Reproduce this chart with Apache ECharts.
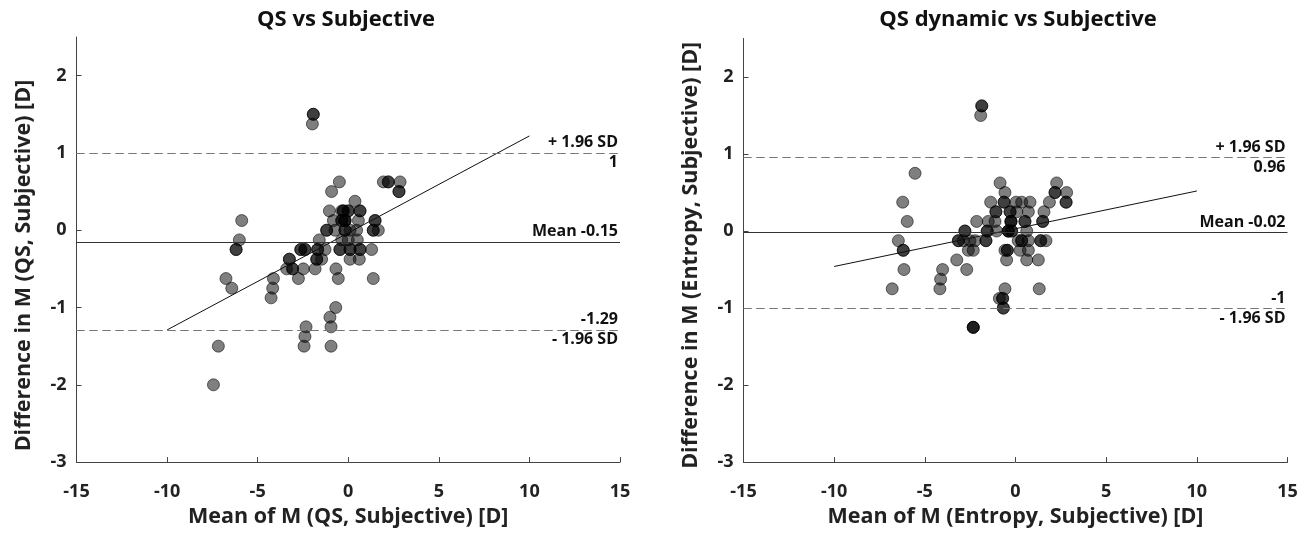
<!DOCTYPE html>
<html>
<head>
<meta charset="utf-8">
<script src="https://cdn.jsdelivr.net/npm/echarts@6/dist/echarts.min.js"></script>
<style>
html,body{margin:0;padding:0;background:#fff;}
#c{width:1311px;height:533px;}
</style>
</head>
<body>
<div id="c"></div>
<script>
// ---- Data ----
const titles = ['QS vs Subjective', 'QS dynamic vs Subjective'];
const xNames = ['Mean of M (QS, Subjective) [D]', 'Mean of M (Entropy, Subjective) [D]'];
const yNames = ['Difference in M (QS, Subjective) [D]', 'Difference in M (Entropy, Subjective) [D]'];
const xTicks = [-15, -10, -5, 0, 5, 10, 15];
const yTicks = [-3, -2, -1, 0, 1, 2];

// Left panel points [mean, difference]
const pointsQS = [
  [-1.93,1.5],[-1.93,1.5],[-1.98,1.375],
  [-0.49,0.625],[1.94,0.625],[2.21,0.625],[2.21,0.625],[2.86,0.625],
  [-0.92,0.5],[2.8,0.5],[2.8,0.5],
  [0.37,0.375],
  [-1.04,0.25],[-0.36,0.25],[-0.27,0.25],[-0.27,0.25],[0,0.25],[0,0.25],[0.65,0.25],[0.65,0.25],
  [-5.88,0.125],[-0.82,0.125],[-0.36,0.125],[-0.36,0.125],[-0.18,0.125],[-0.18,0.125],[-0.18,0.125],[0.56,0.125],[1.48,0.125],[1.48,0.125],
  [-1.19,0],[-1.19,0],[-0.73,0],[-0.18,0],[-0.18,0],[0.1,0],[0.46,0],[1.38,0],[1.38,0],[1.66,0],
  [-6.01,-0.125],[-1.6,-0.125],[-0.36,-0.125],[0,-0.125],[0.5,-0.125],
  [-6.19,-0.25],[-6.19,-0.25],[-2.62,-0.25],[-2.62,-0.25],[-2.39,-0.25],[-2.39,-0.25],[-1.69,-0.25],[-1.69,-0.25],[-1.28,-0.25],[-0.46,-0.25],[-0.46,-0.25],[0.1,-0.25],[0.1,-0.25],[0.65,-0.25],[0.65,-0.25],[1.29,-0.25],
  [-3.25,-0.375],[-3.25,-0.375],[-1.74,-0.375],[-1.74,-0.375],[-1.47,-0.375],[0.1,-0.375],[0.61,-0.375],
  [-3.4,-0.5],[-3.07,-0.5],[-3.07,-0.5],[-2.48,-0.5],[-1.83,-0.5],[-0.68,-0.5],
  [-6.75,-0.625],[-4.13,-0.625],[-2.75,-0.625],[-0.55,-0.625],[1.38,-0.625],
  [-6.43,-0.75],[-4.17,-0.75],
  [-4.26,-0.875],
  [-0.69,-1],
  [-1.01,-1.125],
  [-2.33,-1.25],[-0.95,-1.25],
  [-2.39,-1.375],
  [-7.17,-1.5],[-2.44,-1.5],[-0.95,-1.5],
  [-7.44,-2]
];
// Right panel points [mean, difference]
const pointsEntropy = [
  [-1.86,1.625],[-1.86,1.625],[-1.92,1.5],
  [-5.54,0.75],
  [-0.85,0.625],[2.27,0.625],
  [-0.58,0.5],[2.18,0.5],[2.18,0.5],[2.82,0.5],
  [-6.22,0.375],[-1.37,0.375],[-0.63,0.375],[-0.63,0.375],[0.03,0.375],[0.34,0.375],[0.8,0.375],[1.87,0.375],[2.79,0.375],[2.79,0.375],
  [-1.08,0.25],[-1.08,0.25],[-0.3,0.25],[-0.3,0.25],[0.07,0.25],[0.71,0.25],[1.57,0.25],
  [-5.97,0.125],[-2.14,0.125],[-1.5,0.125],[-1.13,0.125],[-0.25,0.125],[-0.25,0.125],[-0.25,0.125],[0.52,0.125],[0.52,0.125],[1.5,0.125],[1.5,0.125],
  [-2.79,0],[-2.79,0],[-1.56,0],[-1.56,0],[-1.04,0],[-0.4,0],[-0.4,0],[-0.4,0],[-0.21,0],[-0.21,0],[0.62,0],
  [-6.46,-0.125],[-3.15,-0.125],[-3.15,-0.125],[-2.88,-0.125],[-2.51,-0.125],[-2.23,-0.125],[-1.63,-0.125],[-1.63,-0.125],[0.15,-0.125],[0.34,-0.125],[0.34,-0.125],[0.71,-0.125],[1.39,-0.125],[1.39,-0.125],[1.68,-0.125],
  [-6.19,-0.25],[-6.19,-0.25],[-2.6,-0.25],[-2.33,-0.25],[-0.58,-0.25],[-0.45,-0.25],[-0.45,-0.25],[0.25,-0.25],[0.71,-0.25],
  [-3.24,-0.375],[-0.49,-0.375],[0.62,-0.375],[1.26,-0.375],
  [-6.15,-0.5],[-4.02,-0.5],[-2.69,-0.5],
  [-4.13,-0.625],
  [-6.8,-0.75],[-4.17,-0.75],[-0.58,-0.75],[1.31,-0.75],
  [-0.89,-0.875],[-0.71,-0.875],[-0.71,-0.875],
  [-0.67,-1],[-0.67,-1],
  [-2.33,-1.25],[-2.33,-1.25],[-2.33,-1.25]
];
// Regression lines (endpoints)
const regQS = [[-10,-1.29],[10,1.22]];
const regEntropy = [[-10,-0.46],[10,0.52]];
// Limits of agreement: [upper, mean, lower]
const loaQS = [1.0, -0.15, -1.29];
const loaEntropy = [0.96, -0.02, -1.0];
const loaLabelsQS = [['+ 1.96 SD','1'], ['Mean -0.15'], ['-1.29','- 1.96 SD']];
const loaLabelsEntropy = [['+ 1.96 SD','0.96'], ['Mean -0.02'], ['-1','- 1.96 SD']];

// ---- Chart ----
const FONT = '"Open Sans", Lato, sans-serif';
const chart = echarts.init(document.getElementById('c'), null, {renderer:'canvas'});
const yNamePad = [[0,32,0,0],[0,10,0,0]];

function xAxisDef(i){
  return {
    gridIndex:i, type:'value', min:-15, max:15, interval:5,
    name:xNames[i], nameLocation:'middle', nameGap:39,
    nameTextStyle:{fontFamily:FONT, fontWeight:'bold', fontSize:21.5, color:'#222'},
    axisLine:{show:true, onZero:false, lineStyle:{color:'#444', width:1}},
    axisTick:{show:true, inside:true, length:5, lineStyle:{color:'#444'}},
    axisLabel:{fontFamily:FONT, fontWeight:'bold', fontSize:18, color:'#222', margin:21},
    splitLine:{show:false}
  };
}
function yAxisDef(i){
  return {
    gridIndex:i, type:'value', min:-3, max:2.5,
    name:yNames[i], nameLocation:'middle', nameGap:42, nameRotate:90,
    nameTextStyle:{fontFamily:FONT, fontWeight:'bold', fontSize:21.5, color:'#222', padding:yNamePad[i]},
    axisLine:{show:true, onZero:false, lineStyle:{color:'#444', width:1}},
    axisTick:{show:true, inside:true, length:5, lineStyle:{color:'#444'}, customValues:yTicks},
    axisLabel:{fontFamily:FONT, fontWeight:'bold', fontSize:18, color:'#222', margin:10, customValues:yTicks},
    splitLine:{show:false}
  };
}
function loaMarkLine(vals, labels){
  const lab = (text, pos) => ({show:true, formatter:text, position:pos, distance:2,
    fontFamily:FONT, fontWeight:'bold', fontSize:16, color:'#111'});
  const dashed = {color:'#777', type:[8,5], width:1};
  const solid = {color:'#333', type:'solid', width:1};
  return {
    silent:true, symbol:['none','none'], animation:false,
    data:[
      {yAxis:vals[0], lineStyle:dashed, label:lab(labels[0][0],'insideEndTop')},
      {yAxis:vals[0], lineStyle:dashed, label:lab(labels[0][1],'insideEndBottom')},
      {yAxis:vals[1], lineStyle:solid, label:lab(labels[1][0],'insideEndTop')},
      {yAxis:vals[2], lineStyle:dashed, label:lab(labels[2][0],'insideEndTop')},
      {yAxis:vals[2], lineStyle:dashed, label:lab(labels[2][1],'insideEndBottom')}
    ]
  };
}
function scatterDef(i, pts, vals, labels){
  return {
    type:'scatter', xAxisIndex:i, yAxisIndex:i, data:pts, symbolSize:12,
    itemStyle:{color:'rgba(0,0,0,0.5)', borderColor:'rgba(0,0,0,0.55)', borderWidth:1, opacity:1},
    markLine:loaMarkLine(vals, labels), z:3
  };
}
function regDef(i, pts){
  return {type:'line', xAxisIndex:i, yAxisIndex:i, data:pts, symbol:'none',
    lineStyle:{color:'#111', width:1}, z:4, silent:true};
}

chart.setOption({
  animation:false,
  backgroundColor:'#fff',
  title:[
    {text:titles[0], left:341, top:4, textAlign:'center',
      textStyle:{fontFamily:FONT, fontWeight:'bold', fontSize:22, color:'#111'}},
    {text:titles[1], left:1013, top:4, textAlign:'center',
      textStyle:{fontFamily:FONT, fontWeight:'bold', fontSize:22, color:'#111'}}
  ],
  grid:[
    {left:76.5, right:691, top:37, bottom:69.5, containLabel:false},
    {left:743.5, right:23.5, top:38.5, bottom:68, containLabel:false}
  ],
  xAxis:[xAxisDef(0), xAxisDef(1)],
  yAxis:[yAxisDef(0), yAxisDef(1)],
  series:[
    scatterDef(0, pointsQS, loaQS, loaLabelsQS),
    regDef(0, regQS),
    scatterDef(1, pointsEntropy, loaEntropy, loaLabelsEntropy),
    regDef(1, regEntropy)
  ]
});
</script>
</body>
</html>
